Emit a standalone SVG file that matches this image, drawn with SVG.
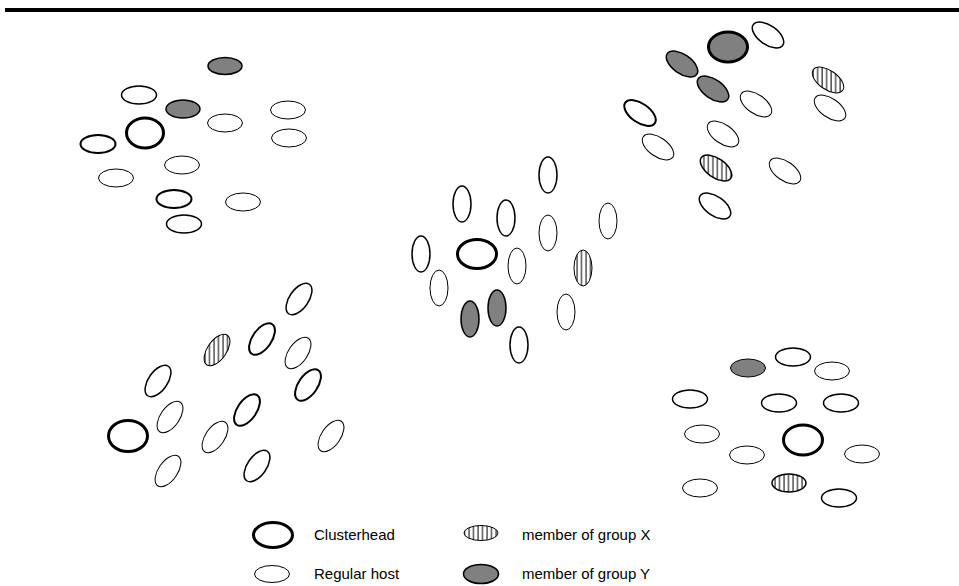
<svg xmlns="http://www.w3.org/2000/svg" width="959" height="586" viewBox="0 0 959 586">
<style>
.n{fill:#fff;stroke:#000;stroke-width:1}
.m{stroke-width:1.5}
.k{stroke-width:2}
.ch{fill:#fff;stroke:#000;stroke-width:3}
.g{fill:#808080}
.hx{fill:url(#hatch)}
.ha{fill:url(#hatchA)}
.hb{fill:url(#hatchB)}
text{font-family:"Liberation Sans",Arial,sans-serif;font-size:15px;fill:#000}
</style>
<defs>
<pattern id="hatch" patternUnits="userSpaceOnUse" width="4.5" height="10">
<rect width="4.5" height="10" fill="#fff"/><line x1="1" y1="0" x2="1" y2="10" stroke="#000" stroke-width="1"/>
</pattern>
<pattern id="hatchA" href="#hatch" patternTransform="rotate(-35)"/>
<pattern id="hatchB" href="#hatch" patternTransform="rotate(-35)"/>
</defs>
<rect x="5" y="8" width="954" height="4" fill="#000"/>

<g id="cluster-top-left">
<ellipse class="n m g" cx="225" cy="66" rx="17" ry="8.5"/>
<ellipse class="n m" cx="139" cy="95" rx="17.5" ry="9"/>
<ellipse class="n m g" cx="183" cy="109" rx="17" ry="9"/>
<ellipse class="ch" cx="145" cy="133" rx="18.5" ry="15"/>
<ellipse class="n" cx="225" cy="123" rx="17.5" ry="9"/>
<ellipse class="n k" cx="98" cy="144" rx="17.5" ry="9"/>
<ellipse class="n" cx="182" cy="165" rx="17.5" ry="9"/>
<ellipse class="n" cx="116" cy="178" rx="17.5" ry="9"/>
<ellipse class="n k" cx="174" cy="199" rx="17.5" ry="9"/>
<ellipse class="n" cx="243" cy="202" rx="17.5" ry="9"/>
<ellipse class="n m" cx="184" cy="224" rx="17.5" ry="9"/>
<ellipse class="n" cx="288" cy="110" rx="17.5" ry="9"/>
<ellipse class="n" cx="289" cy="138" rx="17.5" ry="9"/>
</g>

<g id="cluster-top-right">
<ellipse class="ch g" cx="728" cy="47" rx="19.5" ry="15"/>
<ellipse class="n m" cx="768" cy="35" rx="18" ry="9.5" transform="rotate(35 768 35)"/>
<ellipse class="n m g" cx="682" cy="64" rx="18" ry="9.5" transform="rotate(35 682 64)"/>
<ellipse class="n m g" cx="713" cy="89" rx="18" ry="9.5" transform="rotate(35 713 89)"/>
<ellipse class="n ha" cx="828" cy="80" rx="18" ry="9.5" transform="rotate(35 828 80)"/>
<ellipse class="n" cx="756" cy="104" rx="18" ry="9.5" transform="rotate(35 756 104)"/>
<ellipse class="n k" cx="640" cy="113" rx="18" ry="9.5" transform="rotate(35 640 113)"/>
<ellipse class="n" cx="830" cy="108" rx="18" ry="9.5" transform="rotate(35 830 108)"/>
<ellipse class="n" cx="723" cy="134" rx="18" ry="9.5" transform="rotate(35 723 134)"/>
<ellipse class="n" cx="658" cy="147" rx="18" ry="9.5" transform="rotate(35 658 147)"/>
<ellipse class="n m ha" cx="716" cy="168" rx="18" ry="9.5" transform="rotate(35 716 168)"/>
<ellipse class="n" cx="785" cy="171" rx="18" ry="9.5" transform="rotate(35 785 171)"/>
<ellipse class="n m" cx="715" cy="206" rx="18" ry="9.5" transform="rotate(35 715 206)"/>
</g>

<g id="cluster-center">
<ellipse class="n m" cx="548" cy="175" rx="9" ry="18"/>
<ellipse class="n m" cx="462" cy="204" rx="9" ry="18"/>
<ellipse class="n m" cx="506" cy="218" rx="9" ry="18"/>
<ellipse class="n" cx="608" cy="221" rx="9" ry="18"/>
<ellipse class="n" cx="548" cy="233" rx="9" ry="18"/>
<ellipse class="n m" cx="421" cy="254" rx="9" ry="18"/>
<ellipse class="ch" cx="477" cy="254" rx="19.5" ry="14.5"/>
<ellipse class="n" cx="517" cy="266" rx="9" ry="18"/>
<ellipse class="n hx" cx="583" cy="268" rx="9" ry="18"/>
<ellipse class="n" cx="439" cy="288" rx="9" ry="18"/>
<ellipse class="n m g" cx="497" cy="308" rx="9" ry="18"/>
<ellipse class="n m g" cx="470" cy="319" rx="9" ry="18"/>
<ellipse class="n" cx="566" cy="312" rx="9" ry="18"/>
<ellipse class="n m" cx="519" cy="345" rx="9" ry="18"/>
</g>

<g id="cluster-bottom-left">
<ellipse class="n m" cx="299" cy="299" rx="9.5" ry="18" transform="rotate(35 299 299)"/>
<ellipse class="n hb" cx="217" cy="350" rx="9.5" ry="18" transform="rotate(35 217 350)"/>
<ellipse class="n k" cx="262" cy="339" rx="9.5" ry="18" transform="rotate(35 262 339)"/>
<ellipse class="n" cx="298" cy="353" rx="9.5" ry="18" transform="rotate(35 298 353)"/>
<ellipse class="n m" cx="158" cy="381" rx="9.5" ry="18" transform="rotate(35 158 381)"/>
<ellipse class="n k" cx="308" cy="385" rx="9.5" ry="18" transform="rotate(35 308 385)"/>
<ellipse class="n" cx="170" cy="417" rx="9.5" ry="18" transform="rotate(35 170 417)"/>
<ellipse class="n k" cx="247" cy="410" rx="9.5" ry="18" transform="rotate(35 247 410)"/>
<ellipse class="ch" cx="128" cy="436" rx="19.5" ry="15.5"/>
<ellipse class="n" cx="215" cy="437" rx="9.5" ry="18" transform="rotate(35 215 437)"/>
<ellipse class="n" cx="331" cy="436" rx="9.5" ry="18" transform="rotate(35 331 436)"/>
<ellipse class="n" cx="168" cy="471" rx="9.5" ry="18" transform="rotate(35 168 471)"/>
<ellipse class="n m" cx="257" cy="466" rx="9.5" ry="18" transform="rotate(35 257 466)"/>
</g>

<g id="cluster-bottom-right">
<ellipse class="n g" cx="748" cy="368" rx="17.5" ry="9"/>
<ellipse class="n m" cx="793" cy="357" rx="17.5" ry="9"/>
<ellipse class="n" cx="832" cy="371" rx="17.5" ry="9"/>
<ellipse class="n m" cx="690" cy="399" rx="17.5" ry="9"/>
<ellipse class="n m" cx="779" cy="403" rx="17.5" ry="9"/>
<ellipse class="n m" cx="841" cy="403" rx="17.5" ry="9"/>
<ellipse class="n" cx="702" cy="434" rx="17.5" ry="9"/>
<ellipse class="ch" cx="803" cy="440" rx="19.5" ry="15"/>
<ellipse class="n" cx="747" cy="455" rx="17.5" ry="9"/>
<ellipse class="n" cx="862" cy="454" rx="17.5" ry="9"/>
<ellipse class="n" cx="700" cy="488" rx="17.5" ry="9"/>
<ellipse class="n m hx" cx="789" cy="483" rx="17" ry="9"/>
<ellipse class="n m" cx="839" cy="498" rx="17.5" ry="9"/>
</g>

<g id="legend">
<ellipse class="ch" cx="273" cy="535" rx="19.5" ry="12.5"/>
<text x="314" y="540">Clusterhead</text>
<ellipse class="n" cx="272" cy="574" rx="17.5" ry="8.5"/>
<text x="314" y="579">Regular host</text>
<ellipse class="n hx" cx="481" cy="533" rx="17" ry="7.5"/>
<text x="522" y="540">member of group X</text>
<ellipse class="n m g" cx="481" cy="574" rx="17.5" ry="9.5"/>
<text x="522" y="579">member of group Y</text>
</g>
</svg>
